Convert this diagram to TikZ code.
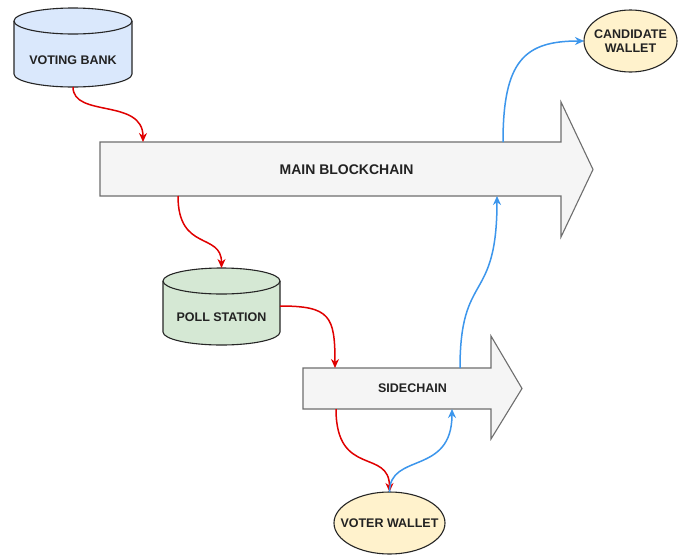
\documentclass[tikz,border=0pt]{standalone}
\usepackage{fontspec}
\setmainfont{Liberation Sans}
\usetikzlibrary{arrows.meta}
\definecolor{bankfill}{HTML}{DAE8FC}
\definecolor{pollfill}{HTML}{D5E8D4}
\definecolor{walletfill}{HTML}{FFF2CC}
\definecolor{chainfill}{HTML}{F5F5F5}
\definecolor{chainline}{HTML}{6E6E6E}
\definecolor{redline}{HTML}{E00000}
\definecolor{blueline}{HTML}{3C96EC}
\definecolor{txt}{HTML}{222222}
\tikzset{
  lbl/.style={font=\bfseries\fontsize{12.5}{14}\selectfont, text=txt, align=center, inner sep=0pt},
  biglbl/.style={lbl, font=\bfseries\fontsize{14}{16}\selectfont},
  chain/.style={draw=chainline, fill=chainfill, line width=1.1pt, line join=miter},
  cyl/.style={draw=black!85, line width=1.1pt},
  wallet/.style={draw=black!85, fill=walletfill, line width=1.1pt},
  redarr/.style={draw=redline, line width=1.5pt, -{Stealth[length=9pt,width=8pt]}},
  bluearr/.style={draw=blueline, line width=1.5pt, -{Stealth[length=9pt,width=8pt]}},
}
\begin{document}
\begin{tikzpicture}[x=1pt,y=1pt]
\useasboundingbox (0,0) rectangle (678,-555);
\fill[white] (0,0) rectangle (678,-555);

% ---------- Voting bank cylinder
\filldraw[cyl, fill=bankfill] (14,-21) -- (14,-74) arc[start angle=180, end angle=360, x radius=59pt, y radius=13pt] -- (132,-21) arc[start angle=0, end angle=180, x radius=59pt, y radius=13pt] -- cycle;
\draw[cyl] (14,-21) arc[start angle=180, end angle=360, x radius=59pt, y radius=13pt];
\node[lbl] (bank) at (73,-60) {VOTING BANK};
\coordinate (bankbot) at (73,-87);

% ---------- Poll station cylinder
\filldraw[cyl, fill=pollfill] (163,-281) -- (163,-332) arc[start angle=180, end angle=360, x radius=58.5pt, y radius=13pt] -- (280,-281) arc[start angle=0, end angle=180, x radius=58.5pt, y radius=13pt] -- cycle;
\draw[cyl] (163,-281) arc[start angle=180, end angle=360, x radius=58.5pt, y radius=13pt];
\node[lbl] (poll) at (221.5,-317) {POLL STATION};
\coordinate (polltop) at (221.5,-268);
\coordinate (pollright) at (280,-306);

% ---------- Main blockchain arrow
\filldraw[chain] (100,-142) -- (561,-142) -- (561,-102) -- (593,-169.5) -- (561,-237) -- (561,-196) -- (100,-196) -- cycle;
\node[biglbl] (main) at (346.5,-169.5) {MAIN BLOCKCHAIN};
\coordinate (mainin) at (143,-142);
\coordinate (mainout) at (178,-196);
\coordinate (mainup) at (497,-196);
\coordinate (maintop) at (503,-142);

% ---------- Sidechain arrow
\filldraw[chain] (303,-368) -- (491,-368) -- (491,-336) -- (522,-388.5) -- (491,-439) -- (491,-409) -- (303,-409) -- cycle;
\node[lbl] (side) at (412.5,-388.5) {SIDECHAIN};
\coordinate (sidein) at (335,-368);
\coordinate (sideout) at (336,-409);
\coordinate (sideback) at (452,-409);
\coordinate (sidetop) at (460,-368);

% ---------- Wallets
\filldraw[wallet] (389.5,-523) ellipse[x radius=55.5pt, y radius=31pt];
\node[lbl] (voter) at (389.5,-523) {VOTER WALLET};
\coordinate (votertop) at (389.5,-492);
\filldraw[wallet] (630.5,-41) ellipse[x radius=46.5pt, y radius=31pt];
\node[lbl] (cand) at (630.5,-41) {CANDIDATE\\WALLET};
\coordinate (candleft) at (584,-41);

% ---------- Connectors
\draw[redarr] (bankbot) .. controls (73,-118) and (143,-98) .. (mainin);
\draw[redarr] (mainout) .. controls (178,-252) and (221.5,-232) .. (polltop);
\draw[redarr] (pollright) .. controls (330,-306) and (335,-316) .. (sidein);
\draw[redarr] (sideout) .. controls (336,-478) and (389.5,-448) .. (votertop);
\draw[bluearr] (votertop) .. controls (389.5,-452) and (452,-476) .. (sideback);
\draw[bluearr] (sidetop) .. controls (460,-270) and (497,-305) .. (mainup);
\draw[bluearr] (maintop) .. controls (503,-60) and (525,-41) .. (candleft);
\end{tikzpicture}
\end{document}
